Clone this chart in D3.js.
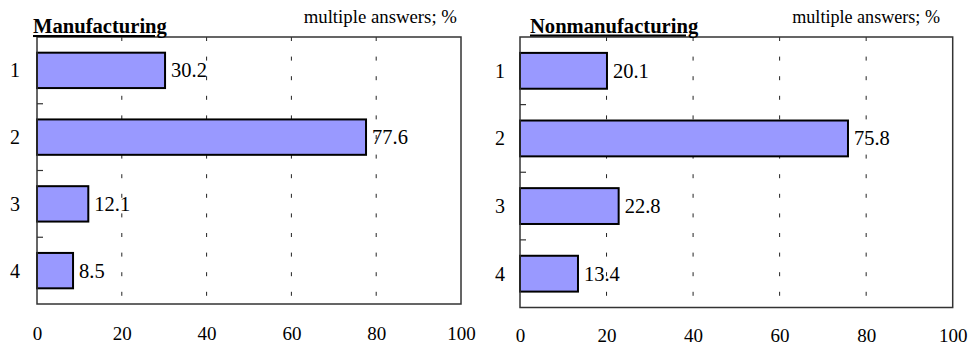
<!DOCTYPE html>
<html>
<head>
<meta charset="utf-8">
<script src="https://cdn.jsdelivr.net/npm/d3@7"></script>
<style>
  html, body { margin: 0; padding: 0; background: #fff; }
</style>
</head>
<body>
<svg id="chart" width="970" height="347" style="display:block; font-family: 'Liberation Serif', monospace;"></svg>
<script>
const categories = ["1", "2", "3", "4"];
const manufacturing = [30.2, 77.6, 12.1, 8.5];
const nonmanufacturing = [20.1, 75.8, 22.8, 13.4];
const xTicks = [0, 20, 40, 60, 80, 100];
const gridTicks = [20, 40, 60, 80];
const titles = ["Manufacturing", "Nonmanufacturing"];
const note = "multiple answers; %";

const FONT = "'Liberation Serif', monospace";
const svg = d3.select("#chart");

const panels = [
  { title: titles[0], values: manufacturing, x0: 37, x1: 461, y0: 37, y1: 304,
    titleX: 33, titleY: 33, noteX: 457, noteY: 23, noteSize: 18.8, labelX: -22, axisY: 340 },
  { title: titles[1], values: nonmanufacturing, x0: 520, x1: 952.7, y0: 37, y1: 307.5,
    titleX: 530, titleY: 32.5, noteX: 940, noteY: 23, noteSize: 18.1, labelX: -20, axisY: 342 }
];

function setFont(sel, size, weight) {
  sel.attr("font-family", null)
    .style("font-family", FONT)
    .style("font-size", size + "px")
    .style("font-weight", weight || "normal");
  return sel;
}

panels.forEach(p => {
  const x = d3.scaleLinear().domain([0, 100]).range([p.x0, p.x1]);
  const y = d3.scaleBand().domain(categories).range([p.y0, p.y1])
    .paddingInner(0.47).paddingOuter(0.235);
  const step = y.step();
  const g = svg.append("g");

  // dashed grid
  g.selectAll("line.grid").data(gridTicks).join("line")
    .attr("x1", d => x(d)).attr("x2", d => x(d))
    .attr("y1", p.y0).attr("y2", p.y1)
    .attr("stroke", "#222").attr("stroke-width", 1)
    .attr("stroke-dasharray", "4,15.6");

  // bars
  g.selectAll("rect.bar").data(p.values).join("rect")
    .attr("x", x(0))
    .attr("y", (d, i) => y(categories[i]))
    .attr("width", d => x(d) - x(0))
    .attr("height", y.bandwidth())
    .attr("fill", "#9999ff")
    .attr("stroke", "#000")
    .attr("stroke-width", 2);

  // value labels
  const vals = g.selectAll("text.val").data(p.values).join("text")
    .attr("x", d => x(d) + 6)
    .attr("y", (d, i) => y(categories[i]) + y.bandwidth() / 2 + 7)
    .attr("fill", "#000")
    .text(d => d.toFixed(1));
  setFont(vals, 20.5);

  // frame
  g.append("rect")
    .attr("x", p.x0).attr("y", p.y0)
    .attr("width", p.x1 - p.x0).attr("height", p.y1 - p.y0)
    .attr("fill", "none").attr("stroke", "#333").attr("stroke-width", 1.5);

  // category boundary ticks (inside)
  g.selectAll("line.ctick").data([1, 2, 3]).join("line")
    .attr("x1", p.x0).attr("x2", p.x0 + 6)
    .attr("y1", d => p.y0 + d * step).attr("y2", d => p.y0 + d * step)
    .attr("stroke", "#333").attr("stroke-width", 1.2);

  // category labels via axis
  const yAxis = d3.axisLeft(y).tickSize(0).tickPadding(0);
  const ya = g.append("g").attr("transform", `translate(${p.x0},0)`).call(yAxis);
  ya.attr("font-family", null).attr("font-size", null);
  ya.select(".domain").remove();
  setFont(ya.selectAll("text")
    .attr("x", p.labelX)
    .attr("dy", null)
    .attr("y", 7)
    .attr("text-anchor", "middle")
    .attr("fill", "#000"), 20);

  // x axis labels
  const xAxis = d3.axisBottom(x).tickValues(xTicks).tickSize(0).tickPadding(0)
    .tickFormat(d3.format("d"));
  const xa = g.append("g").attr("transform", `translate(0,${p.axisY})`).call(xAxis);
  xa.attr("font-family", null).attr("font-size", null);
  xa.select(".domain").remove();
  setFont(xa.selectAll("text")
    .attr("y", 0).attr("dy", null)
    .attr("fill", "#000"), 19);

  // title
  setFont(g.append("text")
    .attr("x", p.titleX).attr("y", p.titleY)
    .style("text-decoration", "underline")
    .attr("fill", "#000")
    .text(p.title), 20.6, "bold");

  // note
  setFont(g.append("text")
    .attr("x", p.noteX).attr("y", p.noteY)
    .attr("text-anchor", "end")
    .attr("fill", "#000")
    .text(note), p.noteSize);
});
</script>
</body>
</html>
